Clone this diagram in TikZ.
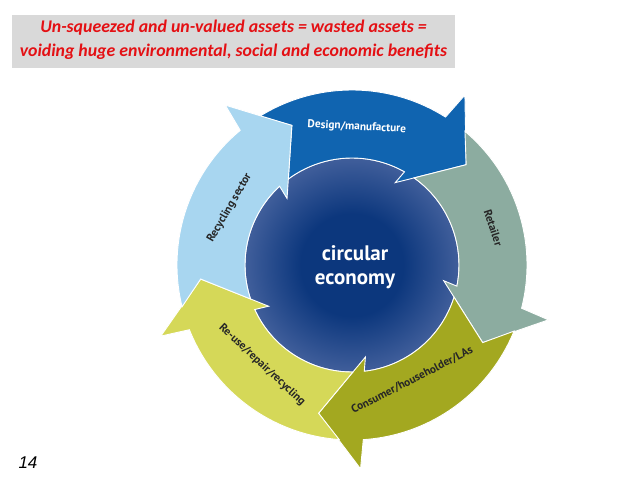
\documentclass[tikz,border=0pt]{standalone}
\usepackage{fontspec}
\setmainfont{Carlito}
\newfontfamily\ptsans{PT Sans}
\newfontfamily\arialfont{Liberation Sans}
\usetikzlibrary{calc}
\definecolor{dsgblue}{RGB}{16,100,176}
\definecolor{retgreen}{RGB}{140,172,160}
\definecolor{conolive}{RGB}{163,168,32}
\definecolor{reuyellow}{RGB}{213,216,88}
\definecolor{recblue}{RGB}{168,214,240}
\definecolor{discin}{RGB}{12,55,125}
\definecolor{discout}{RGB}{165,170,212}
\definecolor{boxgrey}{RGB}{217,217,217}
\definecolor{titlered}{RGB}{228,16,20}
\pgfdeclareradialshading{diskfade}{\pgfpointorigin}{color(0bp)=(discin); color(12bp)=(discin); color(50bp)=(discout)}
\tikzset{
    % ring segments
    seg/.style={
           draw=white,
           line width=0.9pt,
           line join=miter},
    % labels on the ring
    lab/.style={
           font=\ptsans\bfseries\fontsize{11.3}{13}\selectfont,
           text=black!85}
}

\begin{document}
\begin{tikzpicture}[x=1pt,y=1pt]
\useasboundingbox[fill=white] (-352,-214) rectangle (286,265);

\fill[boxgrey] (-340,197) rectangle (103,250);
\node[font=\bfseries\itshape\fontsize{17.8}{20}\selectfont, text=titlered] (head1) at (-118.5,237) {Un-squeezed and un-valued assets = wasted assets =};
\node[font=\bfseries\itshape\fontsize{17.8}{20}\selectfont, text=titlered] (head2) at (-118.5,213) {voiding huge environmental, social and economic benefits};

\shade[shading=diskfade] (0,0) circle (107);
\draw[white, line width=0.9pt] (0,0) circle (107);

% five arrows, each turned by 72 degrees
\foreach \k/\col in {0/dsgblue,1/retgreen,2/conolive,3/reuyellow,4/recblue}
  \filldraw[seg, fill=\col, rotate=-72*\k] (121.8:175) arc[start angle=121.8, end angle=57.7, radius=175]
    -- (56.4:204) -- (41.3:152) -- (62.3:93) -- (60.6:107)
    arc[start angle=60.6, end angle=126.5, radius=107] -- (113.3:152) -- cycle;

\node[lab, text=white, rotate=-3] (dsg) at (88:138) {Design/manufacture};
\node[lab, rotate=-72] (ret) at (14.7:146) {Retailer};
\node[lab, rotate=27] (con) at (-62.4:130) {Consumer/householder/LAs};
\node[lab, rotate=-43] (reu) at (-132:134.5) {Re-use/repair/recycling};
\node[lab, rotate=60] (rec) at (155:135) {Recycling sector};

\node[font=\ptsans\bfseries\fontsize{21}{24}\selectfont, text=white, align=center] (centre) at (3,-2) {circular\\economy};

\node[font=\arialfont\itshape\fontsize{17}{18}\selectfont] (pagenum) at (-324,-198) {14};
\end{tikzpicture}
\end{document}
